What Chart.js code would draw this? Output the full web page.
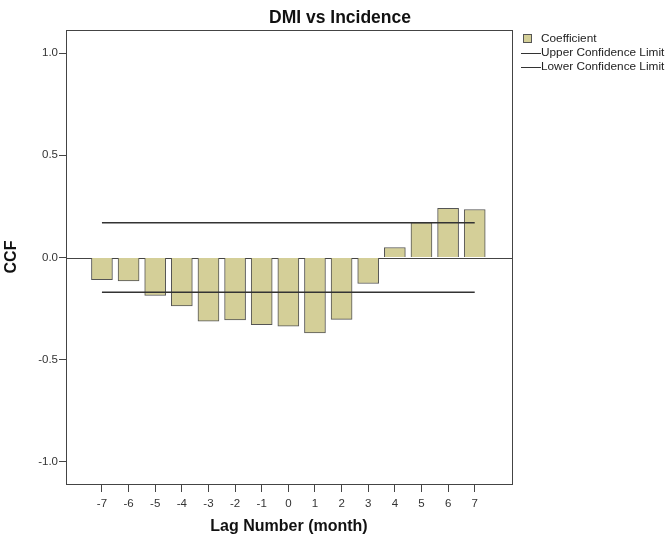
<!DOCTYPE html>
<html lang="en">
<head>
    <meta charset="UTF-8">
    <title>DMI vs Incidence</title>
    <script src="https://cdn.jsdelivr.net/npm/chart.js"></script>
    <style>
        body {
            margin: 0;
            background-color: white;
        }

        #chart-container {
            width: 666px;
            height: 537px;
        }
    </style>
</head>
<body>
    <div id="chart-container">
        <canvas id="ccfChart" width="666" height="537"></canvas>
    </div>

    <script>
        // data
        const lags = [-7, -6, -5, -4, -3, -2, -1, 0, 1, 2, 3, 4, 5, 6, 7];
        const coefficient = [-0.108, -0.114, -0.186, -0.237, -0.311, -0.305, -0.328, -0.336, -0.369, -0.303, -0.127, 0.049, 0.171, 0.240, 0.235];
        const upperLimit = [0.170, 0.170, 0.170, 0.170, 0.170, 0.170, 0.170, 0.170, 0.170, 0.170, 0.170, 0.170, 0.170, 0.170, 0.170];
        const lowerLimit = [-0.170, -0.170, -0.170, -0.170, -0.170, -0.170, -0.170, -0.170, -0.170, -0.170, -0.170, -0.170, -0.170, -0.170, -0.170];
        const yTicks = [-1.0, -0.5, 0.0, 0.5, 1.0];

        const barColor = '#d4cf98';
        const lineColor = '#333333';
        const fontFamily = '"Liberation Sans", Arial, sans-serif';

        // frame, zero line, title and legend, drawn like the SPSS output
        const spssDecor = {
            id: 'spssDecor',
            beforeDatasetsDraw(chart) {
                const ctx = chart.ctx;
                const area = chart.chartArea;
                const y0 = chart.scales.y.getPixelForValue(0);
                ctx.save();
                ctx.strokeStyle = '#444';
                ctx.lineWidth = 1;
                ctx.beginPath();
                ctx.moveTo(area.left, Math.round(y0) + 0.5);
                ctx.lineTo(area.right, Math.round(y0) + 0.5);
                ctx.stroke();
                ctx.restore();
            },
            afterDraw(chart) {
                const ctx = chart.ctx;
                const area = chart.chartArea;
                ctx.save();
                ctx.strokeStyle = '#444';
                ctx.lineWidth = 1;
                ctx.strokeRect(Math.round(area.left) + 0.5, Math.round(area.top) + 0.5,
                    Math.round(area.right - area.left), Math.round(area.bottom - area.top));

                // title
                ctx.fillStyle = '#111';
                ctx.font = 'bold 17.5px ' + fontFamily;
                ctx.textAlign = 'center';
                ctx.textBaseline = 'middle';
                ctx.fillText('DMI vs Incidence', 340, 18);

                // legend
                ctx.font = '11.8px ' + fontFamily;
                ctx.textAlign = 'left';
                ctx.fillStyle = barColor;
                ctx.fillRect(523, 34, 9, 9);
                ctx.strokeStyle = '#555';
                ctx.strokeRect(523.5, 34.5, 8, 8);
                ctx.fillStyle = '#222';
                ctx.fillText('Coefficient', 541, 39);

                ctx.strokeStyle = lineColor;
                ctx.lineWidth = 1.2;
                ctx.beginPath();
                ctx.moveTo(521, 53.5);
                ctx.lineTo(541, 53.5);
                ctx.moveTo(521, 67.5);
                ctx.lineTo(541, 67.5);
                ctx.stroke();
                ctx.fillText('Upper Confidence Limit', 541, 53);
                ctx.fillText('Lower Confidence Limit', 541, 67);
                ctx.restore();
            }
        };

        const ctx = document.getElementById('ccfChart').getContext('2d');

        const ccfChart = new Chart(ctx, {
            type: 'bar',
            data: {
                datasets: [
                    {
                        type: 'line',
                        label: 'Upper Confidence Limit',
                        data: lags.map((lag, i) => ({ x: lag, y: upperLimit[i] })),
                        borderColor: lineColor,
                        borderWidth: 1.5,
                        pointRadius: 0,
                        fill: false,
                        order: 0
                    },
                    {
                        type: 'line',
                        label: 'Lower Confidence Limit',
                        data: lags.map((lag, i) => ({ x: lag, y: lowerLimit[i] })),
                        borderColor: lineColor,
                        borderWidth: 1.5,
                        pointRadius: 0,
                        fill: false,
                        order: 0
                    },
                    {
                        label: 'Coefficient',
                        data: lags.map((lag, i) => ({ x: lag, y: coefficient[i] })),
                        backgroundColor: barColor,
                        borderColor: '#555',
                        borderWidth: 1,
                        barThickness: 21,
                        order: 1
                    }
                ]
            },
            options: {
                responsive: false,
                animation: false,
                layout: {
                    padding: { left: 0, right: 154, top: 30, bottom: 0 }
                },
                plugins: {
                    legend: { display: false },
                    tooltip: { enabled: false }
                },
                scales: {
                    x: {
                        type: 'linear',
                        offset: false,
                        min: -8.35,
                        max: 8.4,
                        afterBuildTicks: (scale) => {
                            scale.ticks = lags.map(v => ({ value: v }));
                        },
                        afterFit: (scale) => {
                            scale.height = 53;
                        },
                        grid: {
                            offset: false,
                            drawOnChartArea: false,
                            drawTicks: true,
                            tickLength: 8,
                            color: '#444'
                        },
                        border: { display: false },
                        ticks: {
                            autoSkip: false,
                            maxRotation: 0,
                            padding: 5,
                            color: '#333',
                            font: { family: fontFamily, size: 11.5 }
                        },
                        title: {
                            display: true,
                            text: 'Lag Number (month)',
                            color: '#111',
                            font: { family: fontFamily, size: 16, weight: 'bold' },
                            padding: { top: 4, bottom: 1 }
                        }
                    },
                    y: {
                        min: -1.108,
                        max: 1.113,
                        afterBuildTicks: (scale) => {
                            scale.ticks = yTicks.map(v => ({ value: v }));
                        },
                        afterFit: (scale) => {
                            scale.width = 66;
                        },
                        grid: {
                            drawOnChartArea: false,
                            drawTicks: true,
                            tickLength: 7,
                            color: '#444'
                        },
                        border: { display: false },
                        ticks: {
                            padding: 1,
                            color: '#333',
                            font: { family: fontFamily, size: 11.5 },
                            callback: (value) => value.toFixed(1)
                        },
                        title: {
                            display: true,
                            text: 'CCF',
                            color: '#111',
                            font: { family: fontFamily, size: 16, weight: 'bold' },
                            padding: { top: 2, bottom: 0 }
                        }
                    }
                }
            },
            plugins: [spssDecor]
        });
    </script>
</body>
</html>
